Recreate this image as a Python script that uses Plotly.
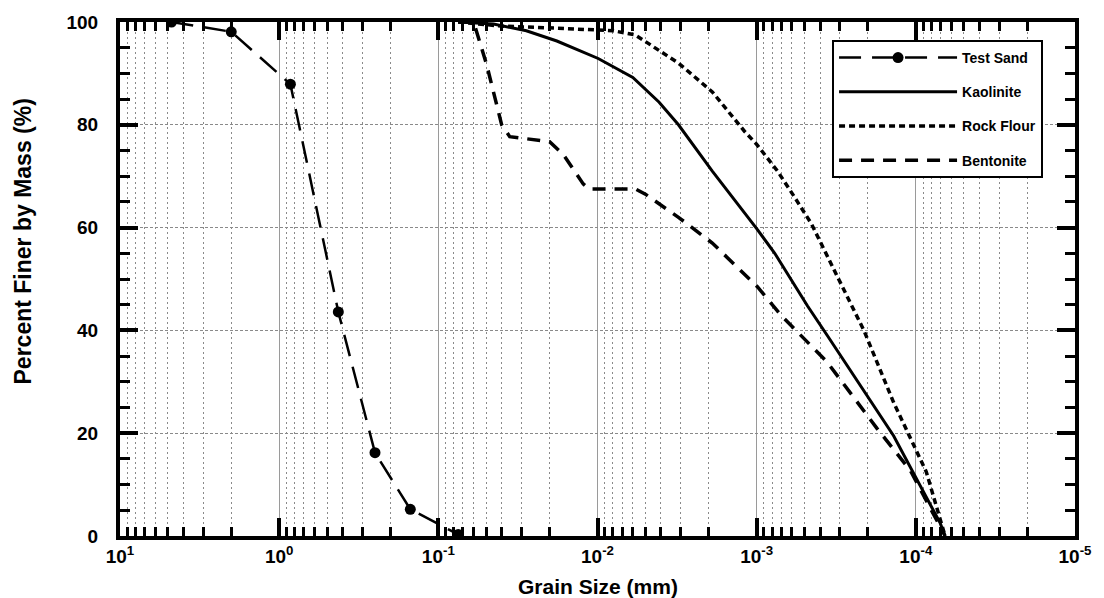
import plotly.graph_objects as go

# ---- data (grain size in mm, percent finer by mass) ----
sand_size = [4.75, 2.0, 0.85, 0.425, 0.25, 0.15, 0.075]
sand_pct = [100, 98.1, 87.9, 43.6, 16.2, 5.2, 0.3]

kaol_size = [0.075, 0.045, 0.028, 0.018, 0.0099, 0.006, 0.0041, 0.0031, 0.0019,
             0.001, 0.00077, 0.00048, 0.00036, 0.000138, 0.0000703, 0.0000655]
kaol_pct = [100, 99.6, 98.3, 96.3, 92.9, 89.2, 84.4, 80, 71,
            59.8, 55, 44.8, 39, 19.5, 2.5, 0]

rock_size = [0.075, 0.04, 0.018, 0.008, 0.0058, 0.0031, 0.0019, 0.00119, 0.001,
             0.00074, 0.00058, 0.000454, 0.000212, 0.000138,
             0.000086, 0.0000655]
rock_pct = [100, 99.2, 98.8, 98.3, 97.5, 92, 86.4, 78.7, 76.2,
            71, 66, 60.8, 40, 26,
            12.5, 0]

bent_size = [0.075, 0.06, 0.0495, 0.04, 0.0356, 0.02, 0.0164, 0.0123, 0.0113,
             0.00575, 0.005, 0.0031, 0.0019, 0.00099, 0.0007, 0.00036,
             0.000176, 0.000108, 0.0000655]
bent_pct = [100, 100, 91.5, 80, 77.7, 76.7, 74.2, 68.5, 67.5,
            67.5, 66.5, 62, 57, 48.5, 42.9, 33.8,
            21, 12.7, 0]

decade_vals = [10, 1, 0.1, 0.01, 0.001, 0.0001, 0.00001]
decade_text = ["10<sup>1</sup>", "10<sup>0</sup>", "10<sup>-1</sup>", "10<sup>-2</sup>",
               "10<sup>-3</sup>", "10<sup>-4</sup>", "10<sup>-5</sup>"]
y_ticks = [0, 20, 40, 60, 80, 100]

FONT = "Liberation Sans, Arial, sans-serif"

fig = go.Figure()
fig.add_trace(go.Scatter(x=sand_size, y=sand_pct, name="Test Sand", mode="lines+markers",
                         legendgroup="a",
                         line=dict(color="black", width=2.5, dash="22px,11px"),
                         marker=dict(color="black", size=11, symbol="circle")))
fig.add_trace(go.Scatter(x=kaol_size, y=kaol_pct, name="Kaolinite", mode="lines",
                         legendgroup="b",
                         line=dict(color="black", width=3)))
fig.add_trace(go.Scatter(x=rock_size, y=rock_pct, name="Rock Flour", mode="lines",
                         legendgroup="c",
                         line=dict(color="black", width=3.5, dash="6px,4px")))
fig.add_trace(go.Scatter(x=bent_size, y=bent_pct, name="Bentonite", mode="lines",
                         legendgroup="d",
                         line=dict(color="black", width=3.5, dash="13px,9px")))

fig.update_layout(
    width=1104, height=598,
    margin=dict(l=120, r=21, t=16, b=62),
    plot_bgcolor="white", paper_bgcolor="white",
    font=dict(family=FONT, color="black"),
    showlegend=True,
    legend=dict(x=0.7456, y=0.965, xanchor="left", yanchor="top",
                bgcolor="white", bordercolor="black", borderwidth=2,
                font=dict(family=FONT, size=14, weight="bold", color="black"),
                tracegroupgap=13, itemwidth=118, traceorder="grouped"),
    xaxis=dict(
        type="log", range=[1, -5],
        tickvals=decade_vals, ticktext=decade_text,
        tickfont=dict(family=FONT, size=19, weight="bold"),
        showline=True, linewidth=4, linecolor="black", mirror="allticks",
        ticks="inside", ticklen=18, tickwidth=4, tickcolor="black",
        showgrid=True, gridcolor="#9a9a9a", gridwidth=1,
        zeroline=False,
        minor=dict(dtick="D1", ticks="inside", ticklen=9, tickwidth=3, tickcolor="black",
                   showgrid=True, gridcolor="#8a8a8a", gridwidth=1, griddash="2px,3px"),
    ),
    yaxis=dict(
        range=[0, 100], tickvals=y_ticks,
        tickfont=dict(family=FONT, size=19, weight="bold"),
        showline=True, linewidth=4, linecolor="black", mirror="allticks",
        ticks="inside", ticklen=18, tickwidth=4, tickcolor="black",
        showgrid=True, gridcolor="#8a8a8a", gridwidth=1, griddash="3px,2px",
        zeroline=False, ticklabelstandoff=14,
        minor=dict(dtick=5, ticks="inside", ticklen=10, tickwidth=3, tickcolor="black",
                   showgrid=False),
    ),
    annotations=[
        dict(text="Grain Size (mm)", xref="paper", yref="paper", x=0.5, y=0,
             yshift=-50, yanchor="middle", showarrow=False,
             font=dict(family=FONT, size=21, weight="bold")),
        dict(text="Percent Finer by Mass (%)", xref="paper", yref="paper", x=0,
             xshift=-97, y=0.573, textangle=-90, xanchor="center", yanchor="middle",
             showarrow=False, font=dict(family=FONT, size=23, weight="bold")),
    ],
)

fig.write_html("out.html")
